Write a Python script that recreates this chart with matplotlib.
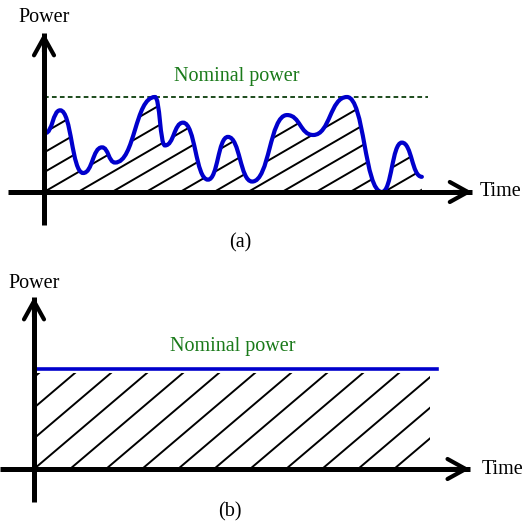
import numpy as np
import matplotlib
matplotlib.use('Agg')
import matplotlib.pyplot as plt
from matplotlib.path import Path
from matplotlib.patches import PathPatch

# panel (a): fluctuating output, knots at peaks/troughs (time, power; nominal = 1)
time_a = [0.03, 0.42, 1.02, 1.51, 1.85, 2.89, 3.15, 3.62, 4.27, 4.79,
          5.42, 6.33, 7.01, 7.89, 8.80, 9.32, 9.84]
power_a = [0.62, 0.86, 0.20, 0.47, 0.31, 1.00, 0.49, 0.73, 0.13, 0.58,
           0.11, 0.81, 0.60, 1.00, 0.00, 0.52, 0.16]
nominal_a = 1.0
nominal_end_a = 10.0

# panel (b): constant output at nominal power
time_b = [0.0, 10.05]
power_b = [1.0, 1.0]
hatch_end_b = 9.88

W, H = 525, 530
plt.rcParams['font.family'] = ['Liberation Serif', 'DejaVu Serif']
fig = plt.figure(figsize=(W / 100, H / 100), dpi=100)

BLUE = '#0000cc'
DKGREEN = '#0b3d0b'
TXTGREEN = '#1a7a1a'
FS = 14.5


def panel_axes(top, bottom, x0, y0, px_t, px_p):
    # axes spanning full width; origin of the sketch at pixel (x0, y0)
    ax = fig.add_axes([0, 1 - bottom / H, 1, (bottom - top) / H])
    ax.set_xlim(-x0 / px_t, (W - x0) / px_t)
    ax.set_ylim((y0 - bottom) / px_p, (y0 - top) / px_p)
    ax.axis('off')
    return ax


def draw_axes(ax, xmin, xmax, ymin, ymax):
    ax.plot([xmin, xmax], [0, 0], color='k', lw=3.6, solid_capstyle='butt', zorder=5)
    ax.plot([0, 0], [ymin, ymax], color='k', lw=3.6, solid_capstyle='butt', zorder=5)
    arrow = dict(arrowstyle='->,head_length=1.3,head_width=0.72', color='k', lw=3.0,
                 shrinkA=0, shrinkB=0)
    ax.annotate('', xy=(xmax, 0), xytext=(xmax - 0.5, 0), arrowprops=arrow, zorder=6)
    ax.annotate('', xy=(0, ymax), xytext=(0, ymax - 0.2), arrowprops=arrow, zorder=6)


def hatch(ax, clip, slope, spacing):
    for t0 in np.arange(-25, 15) * spacing:
        ln, = ax.plot([t0, t0 + 20], [0, slope * 20], color='k', lw=1.4, zorder=2)
        ln.set_clip_path(clip)


# ---------- panel (a)
px_t, px_p = 38.4, 95
ax = panel_axes(0, 262, 44, 192, px_t, px_p)

verts = [(time_a[0], power_a[0])]
codes = [Path.MOVETO]
for i in range(1, len(time_a)):
    d = 0.5 * (time_a[i] - time_a[i - 1])
    verts += [(time_a[i - 1] + d, power_a[i - 1]), (time_a[i] - d, power_a[i]),
              (time_a[i], power_a[i])]
    codes += [Path.CURVE4] * 3
curve = Path(verts, codes)
area = Path(verts + [(time_a[-1], 0), (time_a[0], 0), (time_a[0], power_a[0])],
            codes + [Path.LINETO, Path.LINETO, Path.CLOSEPOLY])
clip = PathPatch(area, fc='none', ec='none', transform=ax.transData)
ax.add_patch(clip)
hatch(ax, clip, 0.58 * px_t / px_p, 34 / px_t)
ax.add_patch(PathPatch(curve, fc='none', ec=BLUE, lw=3.0, zorder=4, capstyle='round'))

ax.plot([0, nominal_end_a], [nominal_a, nominal_a], color=DKGREEN, lw=1.3,
        dashes=(2.6, 1.8), zorder=3)
draw_axes(ax, -0.94, 11.15, -0.347, 1.674)
ax.text(0, 1.84, 'Power', fontsize=FS, ha='center', va='center')
ax.text(5.03, 1.22, 'Nominal power', fontsize=FS, color=TXTGREEN, ha='center', va='center')
ax.text(11.35, 0, 'Time', fontsize=FS, ha='left', va='center')
ax.text(5.1, -0.537, '(a)', fontsize=FS, ha='center', va='center')

# ---------- panel (b)
px_t, px_p = 40.1, 100
ax = panel_axes(262, 530, 34, 469, px_t, px_p)
rect = Path([(0, 0), (hatch_end_b, 0), (hatch_end_b, power_b[0] - 0.04),
             (0, power_b[0] - 0.04), (0, 0)],
            [Path.MOVETO, Path.LINETO, Path.LINETO, Path.LINETO, Path.CLOSEPOLY])
clip = PathPatch(rect, fc='none', ec='none', transform=ax.transData)
ax.add_patch(clip)
hatch(ax, clip, 0.85 * px_t / px_p, 36 / px_t)
ax.plot(time_b, power_b, color=BLUE, lw=2.6, zorder=4)
draw_axes(ax, -0.85, 10.87, -0.33, 1.72)
ax.text(0, 1.86, 'Power', fontsize=FS, ha='center', va='center')
ax.text(4.96, 1.22, 'Nominal power', fontsize=FS, color=TXTGREEN, ha='center', va='center')
ax.text(11.17, 0, 'Time', fontsize=FS, ha='left', va='center')
ax.text(4.89, -0.43, '(b)', fontsize=FS, ha='center', va='center')

fig.savefig('out.png', dpi=100)
